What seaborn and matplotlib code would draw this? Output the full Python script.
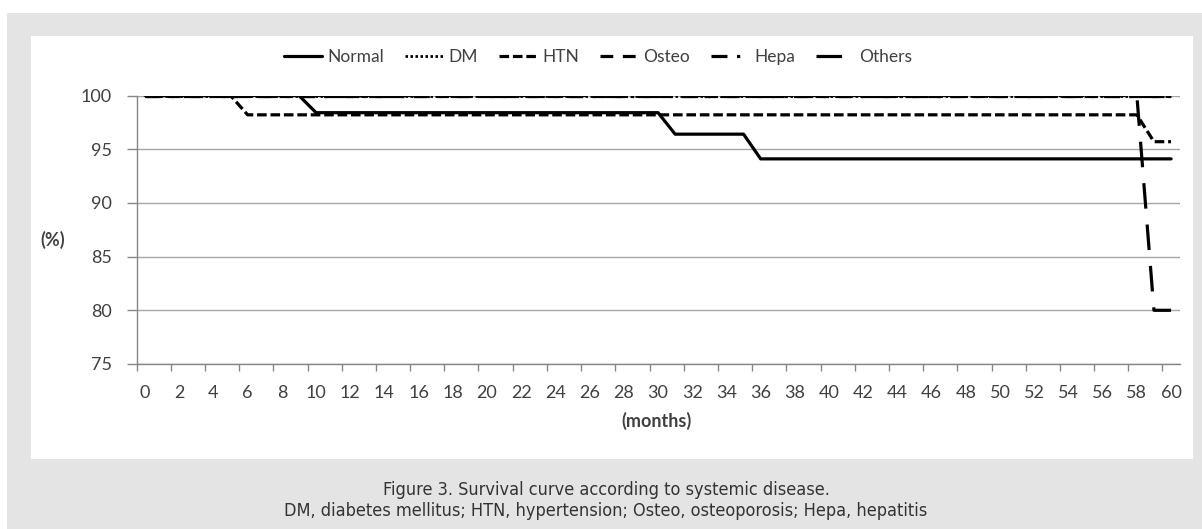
import matplotlib
matplotlib.use("Agg")
import matplotlib.pyplot as plt
from matplotlib.patches import Rectangle
import seaborn as sns
import pandas as pd
import numpy as np

# ---- data (vertices of each survival curve: month, survival %) ----
normal_months = [0, 9, 10, 30, 31, 35, 36, 60]
normal_values = [100, 100, 98.4, 98.4, 96.4, 96.4, 94.1, 94.1]
dm_months = [0, 60]
dm_values = [100, 100]
htn_months = [0, 5, 6, 58, 59, 60]
htn_values = [100, 100, 98.2, 98.2, 95.7, 95.7]
osteo_months = [0, 60]
osteo_values = [100, 100]
hepa_months = [0, 60]
hepa_values = [100, 100]
others_months = [0, 58, 59, 60]
others_values = [100, 100, 80, 80]

series_names = ["Normal", "DM", "HTN", "Osteo", "Hepa", "Others"]
x_tick_labels = [str(v) for v in range(0, 61, 2)]
y_tick_values = [75, 80, 85, 90, 95, 100]

frames = []
for name, m, v in [("Normal", normal_months, normal_values),
                   ("DM", dm_months, dm_values),
                   ("HTN", htn_months, htn_values),
                   ("Osteo", osteo_months, osteo_values),
                   ("Hepa", hepa_months, hepa_values),
                   ("Others", others_months, others_values)]:
    frames.append(pd.DataFrame({"month": m, "value": v, "group": name}))
df = pd.concat(frames, ignore_index=True)

styles = {
    "Normal": dict(lw=2.3, ls="-"),
    "DM": dict(lw=2.0, ls=(0, (0.9, 0.9))),
    "HTN": dict(lw=2.3, ls=(0, (3.0, 1.2))),
    "Osteo": dict(lw=2.3, ls=(0, (4.0, 3.0))),
    "Hepa": dict(lw=2.3, ls=(0, (5.0, 3.0, 1.0, 3.0))),
    "Others": dict(lw=2.3, ls=(0, (8.0, 5.0))),
}

sns.set_theme(style="white")
plt.rcParams["font.family"] = ["Lato", "DejaVu Sans"]

W, H = 1202, 529
fig = plt.figure(figsize=(W / 100, H / 100), dpi=100, facecolor="white")

def fx(px):
    return px / W

def fy(py):
    return 1 - py / H

# grey frame and white panel
fig.add_artist(Rectangle((fx(7), 0), 1 - fx(7), fy(13), transform=fig.transFigure,
                         facecolor="#e4e4e4", edgecolor="none", zorder=-20))
fig.add_artist(Rectangle((fx(31), fy(459)), fx(1193 - 31), (459 - 36) / H,
                         transform=fig.transFigure, facecolor="white",
                         edgecolor="none", zorder=-19))

ax = fig.add_axes([fx(136.5), fy(364), fx(1179.6 - 136.5), (364 - 95.5) / H])
ax.set_facecolor("none")

for name in series_names:
    sub = df[df["group"] == name]
    st = styles[name]
    sns.lineplot(data=sub, x="month", y="value", ax=ax, color="black",
                 linewidth=st["lw"], linestyle=st["ls"], label=name,
                 estimator=None, sort=False, legend=False, zorder=3)

ax.set_xlim(-0.5, 60.5)
ax.set_ylim(75, 100)
ax.set_xlabel("")
ax.set_ylabel("")

grid_c = "#a6a6a6"
axis_c = "#868686"
ax.set_yticks(y_tick_values)
ax.set_yticklabels([str(v) for v in y_tick_values])
ax.yaxis.grid(True, color=grid_c, linewidth=1.0)
ax.xaxis.grid(False)
for s in ["top", "right"]:
    ax.spines[s].set_visible(False)
for s in ["left", "bottom"]:
    ax.spines[s].set_color(axis_c)
    ax.spines[s].set_linewidth(1.0)

ax.set_xticks(list(range(0, 61, 2)))
ax.set_xticklabels(x_tick_labels)
ax.set_xticks(np.arange(-0.5, 60, 2), minor=True)
ax.tick_params(axis="x", which="major", length=0, pad=15, labelsize=13,
               labelcolor="#404040")
ax.tick_params(axis="x", which="minor", length=5, width=1, color=axis_c,
               direction="out", bottom=True)
ax.tick_params(axis="y", which="major", length=7, width=1, color=axis_c,
               direction="out", pad=11, labelsize=13, labelcolor="#404040",
               left=True)

# axis titles
fig.text(fx(657), fy(421), "(months)", ha="center", va="center",
         fontsize=13, fontweight="bold", color="#404040")
fig.text(fx(53), fy(240), "(%)", ha="center", va="center",
         fontsize=13, fontweight="bold", color="#404040")

# legend
handles, labels = ax.get_legend_handles_labels()
fig.legend(handles, labels, loc="center", bbox_to_anchor=(fx(598), fy(57)),
           ncol=6, frameon=False, fontsize=12.5, handlelength=2.2,
           handletextpad=0.3, columnspacing=1.2, labelcolor="#404040")

# caption
fig.text(fx(606), fy(490), "Figure 3. Survival curve according to systemic disease.",
         ha="center", va="center", fontsize=13, color="#333333",
         family="DejaVu Sans", stretch="condensed")
fig.text(fx(606), fy(511),
         "DM, diabetes mellitus; HTN, hypertension; Osteo, osteoporosis; Hepa, hepatitis",
         ha="center", va="center", fontsize=13, color="#333333",
         family="DejaVu Sans", stretch="condensed")

fig.savefig("out.png", dpi=100, facecolor="white")
